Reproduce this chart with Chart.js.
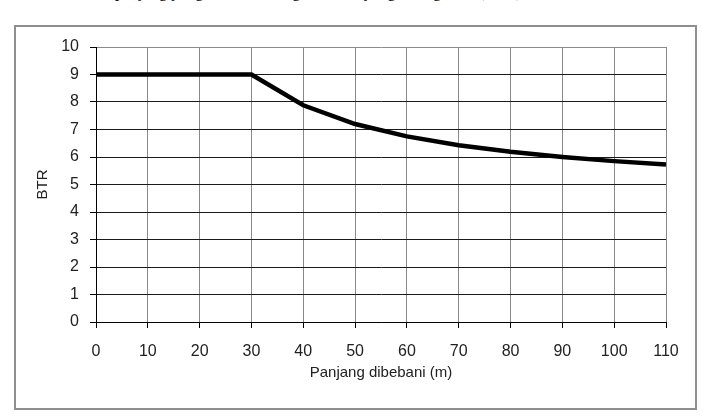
<!DOCTYPE html>
<html lang="id">
<head>
  <meta charset="UTF-8" />
  <title>BTR vs Panjang dibebani</title>
  <style>
    body {
      margin: 0;
      background: #fff;
      width: 703px;
      height: 420px;
      overflow: hidden;
      position: relative;
    }

    .caption {
      position: absolute;
      left: 115px;
      top: -16px;
      font-family: "Liberation Serif", "Times New Roman", serif;
      font-size: 16.5px;
      line-height: 16px;
      color: #000;
      white-space: nowrap;
    }

    .frame {
      position: absolute;
      left: 14px;
      top: 25px;
      width: 679px;
      height: 381px;
      border: 2px solid #8f8f8f;
    }

    canvas {
      position: absolute;
      left: 0;
      top: 0;
    }
  </style>
</head>
<body>
  <div class="caption">panjang yang dibebani dengan beban yang terbagi rata (BTR)</div>
  <div class="frame"></div>
  <canvas id="btrChart" width="703" height="420"></canvas>

  <script src="https://cdn.jsdelivr.net/npm/chart.js"></script>
  <script>
    // Panjang dibebani (m) dan BTR yang dibaca dari grafik
    const panjang = [0, 10, 20, 30, 40, 50, 60, 70, 80, 90, 100, 110];
    const btr = [9, 9, 9, 9, 7.88, 7.2, 6.75, 6.43, 6.19, 6.0, 5.85, 5.73];

    const xTicks = [0, 10, 20, 30, 40, 50, 60, 70, 80, 90, 100, 110];
    const yTicks = [0, 1, 2, 3, 4, 5, 6, 7, 8, 9, 10];

    const points = panjang.map((p, i) => ({ x: p, y: btr[i] }));

    const tickFont = { family: "Arial, 'Liberation Sans', sans-serif", size: 16 };
    const titleFont = { family: "Arial, 'Liberation Sans', sans-serif", size: 15 };

    new Chart(document.getElementById("btrChart"), {
      type: "line",
      data: {
        datasets: [{
          data: points,
          borderColor: "#000",
          borderWidth: 4.5,
          pointRadius: 0,
          tension: 0,
          fill: false
        }]
      },
      options: {
        responsive: false,
        animation: false,
        layout: {
          padding: { left: 15, top: 47, right: 37, bottom: 35 }
        },
        plugins: {
          legend: { display: false },
          tooltip: { enabled: false }
        },
        scales: {
          x: {
            type: "linear",
            min: xTicks[0],
            max: xTicks[xTicks.length - 1],
            afterFit: (scale) => { scale.height = 63; },
            afterBuildTicks: (scale) => { scale.ticks = xTicks.map(v => ({ value: v })); },
            ticks: {
              font: tickFont,
              color: "#222",
              padding: 14,
              maxRotation: 0
            },
            grid: {
              color: "#8a8a8a",
              tickColor: "#000",
              tickLength: 6,
              lineWidth: 1
            },
            border: { color: "#000", width: 1 },
            title: {
              display: true,
              text: "Panjang dibebani (m)",
              font: titleFont,
              color: "#222",
              padding: { top: 0, bottom: 3 }
            }
          },
          y: {
            min: yTicks[0],
            max: yTicks[yTicks.length - 1],
            afterFit: (scale) => { scale.width = 81; },
            afterBuildTicks: (scale) => { scale.ticks = yTicks.map(v => ({ value: v })); },
            ticks: {
              font: tickFont,
              color: "#222",
              padding: 11
            },
            grid: {
              color: (ctx) => ctx.tick && ctx.tick.value === 10 ? "#8a8a8a" : "#1a1a1a",
              tickColor: "#000",
              tickLength: 6,
              lineWidth: 1
            },
            border: { color: "#000", width: 1 },
            title: {
              display: true,
              text: "BTR",
              font: titleFont,
              color: "#222",
              padding: { top: 19, bottom: 0 }
            }
          }
        }
      }
    });
  </script>
</body>
</html>
